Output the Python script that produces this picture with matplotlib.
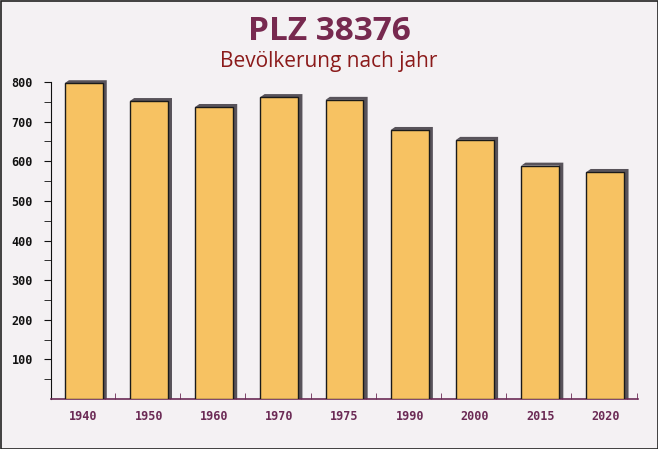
import matplotlib.pyplot as plt
from matplotlib.patches import Polygon
import numpy as np

years = ['1940', '1950', '1960', '1970', '1975', '1990', '2000', '2015', '2020']
population = [797, 752, 737, 762, 755, 679, 654, 589, 573]
y_ticks = [100, 200, 300, 400, 500, 600, 700, 800]

fig = plt.figure(figsize=(6.58, 4.49), dpi=100)
fig.patch.set_facecolor('#f4f1f3')

# thin dark frame round the picture
fig.add_artist(plt.Rectangle((0.0008, 0.001), 0.9985, 0.997, transform=fig.transFigure,
                             fill=False, edgecolor='#222222', linewidth=1.2))

ax = fig.add_axes([51 / 658, 1 - 399 / 449, 587 / 658, 317 / 449])
ax.set_facecolor('none')

x = np.arange(len(years))
w = 0.58
dx, dy = 0.065, 7.5

for xi, v in zip(x, population):
    x0, x1 = xi - w / 2, xi + w / 2
    # shadow on the right and top
    shadow = Polygon([(x0, v), (x0 + dx, v + dy), (x1 + dx, v + dy), (x1 + dx, 0),
                      (x1, 0), (x1, v)], closed=True, facecolor='#58535a',
                     edgecolor='none', clip_on=False, zorder=2)
    ax.add_patch(shadow)

ax.bar(x, population, width=w, color='#f7c262', edgecolor='#1a1a1a',
       linewidth=1.0, zorder=3)

ax.set_xlim(-0.5, len(years) - 0.5)
ax.set_ylim(0, 800)
ax.set_xticks(x)
ax.set_xticklabels(years, family='DejaVu Sans Mono', fontweight='bold',
                   fontsize=8.5, color='#6b2a55')
ax.set_xticks(np.concatenate([x + 0.33, x + 0.48]), minor=True)
ax.set_yticks(y_ticks)
ax.set_yticklabels([str(t) for t in y_ticks], family='DejaVu Sans Mono',
                   fontweight='bold', fontsize=8.5, color='#111111')
ax.set_yticks(np.arange(50, 800, 100), minor=True)

ax.tick_params(axis='x', which='major', length=0, pad=8)
ax.tick_params(axis='x', which='minor', length=4, direction='in', color='#6b2a55')
ax.tick_params(axis='y', which='both', length=5, color='#111111', pad=8)

for s in ['top', 'right']:
    ax.spines[s].set_visible(False)
ax.spines['left'].set_color('#111111')
ax.spines['bottom'].set_color('#6b2a55')
ax.spines['bottom'].set_linewidth(1.2)

fig.text(0.5, 1 - 31 / 449, 'PLZ 38376', ha='center', va='center',
         fontsize=24, fontweight='bold', color='#77294f', family='Open Sans')
fig.text(0.5, 1 - 62 / 449, 'Bevölkerung nach jahr', ha='center', va='center',
         fontsize=15, color='#8b1a1a', family='Open Sans')

fig.savefig('out.png', dpi=100, facecolor=fig.get_facecolor())
